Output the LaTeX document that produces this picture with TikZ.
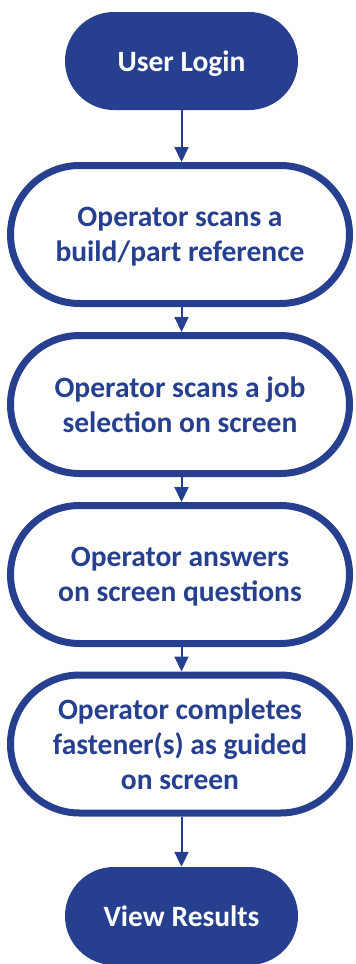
\documentclass[tikz,border=0pt]{standalone}
\usepackage{fontspec}
\setmainfont{Carlito}
\usetikzlibrary{arrows.meta}
\definecolor{navy}{RGB}{38,64,143}
\tikzset{
  txt/.style={font=\fontsize{29.5bp}{35bp}\selectfont\bfseries, align=center, inner sep=0pt, text depth=0pt},
  term/.style={txt, fill=navy, draw=none, text=white, minimum width=233bp, minimum height=98bp, rounded corners=49bp},
  proc/.style={txt, fill=white, draw=navy, line width=7bp, text=navy, minimum width=339bp, minimum height=138bp, rounded corners=69bp},
  conn/.style={draw=navy, line width=2bp, -{Triangle[length=15bp,width=14bp]}}
}
\begin{document}
\begin{tikzpicture}[x=1bp,y=-1bp]
\useasboundingbox (0,0) rectangle (355,964);
\node[term] (login) at (181.5,61) {User Login};
\node[proc] (s1) at (180,234.5) {Operator scans a\\build/part reference};
\node[proc] (s2) at (180,404.5) {Operator scans a job\\selection on screen};
\node[proc] (s3) at (180,574.5) {Operator answers\\on screen questions};
\node[proc] (s4) at (180,744) {Operator completes\\fastener(s) as guided\\on screen};
\node[term] (res) at (181.5,916) {View Results};
\draw[conn] (login.south) -- (login.south |- s1.north);
\draw[conn] (s1.south -| login.south) -- (login.south |- s2.north);
\draw[conn] (s2.south -| login.south) -- (login.south |- s3.north);
\draw[conn] (s3.south -| login.south) -- (login.south |- s4.north);
\draw[conn] (s4.south -| login.south) -- (res.north);
\end{tikzpicture}
\end{document}
